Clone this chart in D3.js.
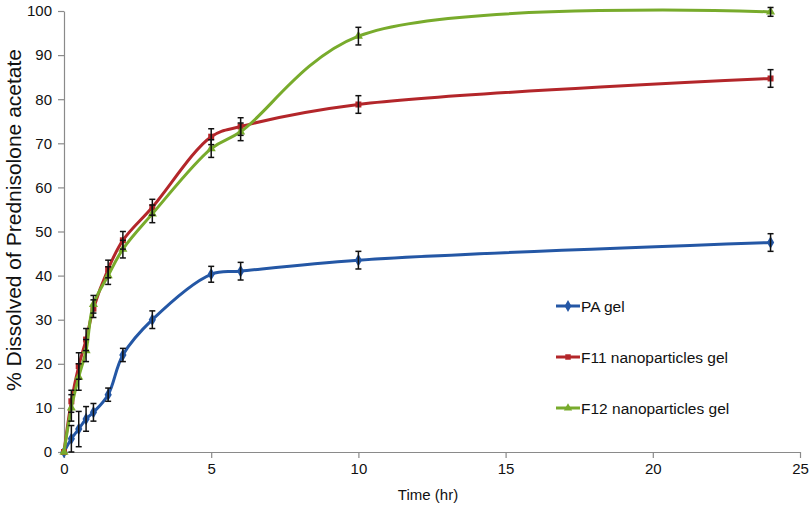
<!DOCTYPE html>
<html>
<head>
<meta charset="utf-8">
<script src="https://cdn.jsdelivr.net/npm/d3@7"></script>
<style>
  body { margin: 0; background: #fff; }
  svg { display: block; }
  text { font-family: "Liberation Sans", Arial, sans-serif; }
</style>
</head>
<body>
<svg id="chart" width="810" height="510"></svg>
<script>
const time = [0, 0.25, 0.5, 0.75, 1, 1.5, 2, 3, 5, 6, 10, 24];
const paGel = [0, 3, 5.2, 7.5, 9, 13, 22, 30, 40.3, 41, 43.5, 47.5];
const f11Gel = [0, 11.5, 19.5, 25.5, 32.5, 41.5, 48, 55.5, 71.5, 73.8, 78.8, 84.7];
const f12Gel = [0, 10, 17, 23, 33.5, 40, 46, 54, 68.8, 72.6, 94.3, 99.8];
const paErr = [0, 3, 4, 2.8, 2, 1.5, 1.5, 2, 1.8, 2, 2, 2];
const f11Err = [0, 2.5, 3, 2.5, 2, 2, 2, 1.8, 1.8, 2, 2, 2];
const f12Err = [0, 3, 3, 2.5, 2, 2, 2, 2, 2, 2, 2, 1];
const seriesNames = ["PA gel", "F11 nanoparticles gel", "F12 nanoparticles gel"];
const xTicks = [0, 5, 10, 15, 20, 25];
const yTicks = [0, 10, 20, 30, 40, 50, 60, 70, 80, 90, 100];

const colors = ["#2457a5", "#b3262a", "#78ab2c"];
const shapes = [d3.symbolDiamond, d3.symbolSquare, d3.symbolTriangle];
const series = [
  { name: seriesNames[0], vals: paGel, err: paErr },
  { name: seriesNames[1], vals: f11Gel, err: f11Err },
  { name: seriesNames[2], vals: f12Gel, err: f12Err }
];

const svg = d3.select("#chart");
const x = d3.scaleLinear().domain([0, 25]).range([64, 800]);
const y = d3.scaleLinear().domain([0, 100]).range([452, 11]);

// axes
const xAxis = svg.append("g").attr("transform", "translate(0,452)")
  .call(d3.axisBottom(x).tickValues(xTicks).tickSize(6).tickPadding(5).tickSizeOuter(0));
const yAxis = svg.append("g").attr("transform", "translate(64,0)")
  .call(d3.axisLeft(y).tickValues(yTicks).tickSize(6).tickPadding(6).tickSizeOuter(0));
[xAxis, yAxis].forEach(a => {
  a.select(".domain").attr("stroke", "#8a8a8a").attr("stroke-width", 1.2);
  a.selectAll(".tick line").attr("stroke", "#8a8a8a").attr("stroke-width", 1.2);
  a.selectAll(".tick text").attr("fill", "#111").style("font-size", "15px")
    .style("font-family", "'Liberation Sans', Arial, sans-serif");
});

// axis titles
svg.append("text").attr("x", 428).attr("y", 500).attr("text-anchor", "middle")
  .style("font-size", "15px").attr("fill", "#111").text("Time (hr)");
svg.append("text").attr("transform", "translate(21,220) rotate(-90)")
  .attr("text-anchor", "middle").style("font-size", "21px").attr("fill", "#111")
  .text("% Dissolved of Prednisolone acetate");

const line = d3.line().x(d => x(d[0])).y(d => y(d[1])).curve(d3.curveCatmullRom.alpha(0.5));

series.forEach((s, i) => {
  const pts = time.map((t, j) => [t, s.vals[j], s.err[j]]);
  const g = svg.append("g");
  g.append("path").datum(pts).attr("d", line).attr("fill", "none")
    .attr("stroke", colors[i]).attr("stroke-width", 3);
  g.selectAll("path.m").data(pts).enter().append("path").attr("class", "m")
    .attr("d", d3.symbol().type(shapes[i]).size(i === 0 ? 45 : 36))
    .attr("transform", d => `translate(${x(d[0])},${y(d[1])})`)
    .attr("fill", colors[i]);
});

// error bars on top
series.forEach((s, i) => {
  const pts = time.map((t, j) => [t, s.vals[j], s.err[j]]).filter(d => d[2] > 0);
  const g = svg.append("g").attr("stroke", "#111").attr("stroke-width", 1.5);
  pts.forEach(d => {
    const cx = x(d[0]), y1 = y(d[1] - d[2]), y2 = y(d[1] + d[2]);
    g.append("line").attr("x1", cx).attr("x2", cx).attr("y1", y1).attr("y2", y2);
    g.append("line").attr("x1", cx - 3).attr("x2", cx + 3).attr("y1", y1).attr("y2", y1);
    g.append("line").attr("x1", cx - 3).attr("x2", cx + 3).attr("y1", y2).attr("y2", y2);
  });
});

// legend
const legY = [306, 357, 408];
series.forEach((s, i) => {
  const g = svg.append("g").attr("transform", `translate(556,${legY[i]})`);
  g.append("line").attr("x1", 0).attr("x2", 24).attr("y1", 0).attr("y2", 0)
    .attr("stroke", colors[i]).attr("stroke-width", 3);
  g.append("path").attr("d", d3.symbol().type(shapes[i]).size(i === 0 ? 40 : 30))
    .attr("transform", "translate(12,0)").attr("fill", colors[i]);
  g.append("text").attr("x", 25).attr("y", 6).style("font-size", "15.5px")
    .attr("fill", "#111").text(s.name);
});
</script>
</body>
</html>
